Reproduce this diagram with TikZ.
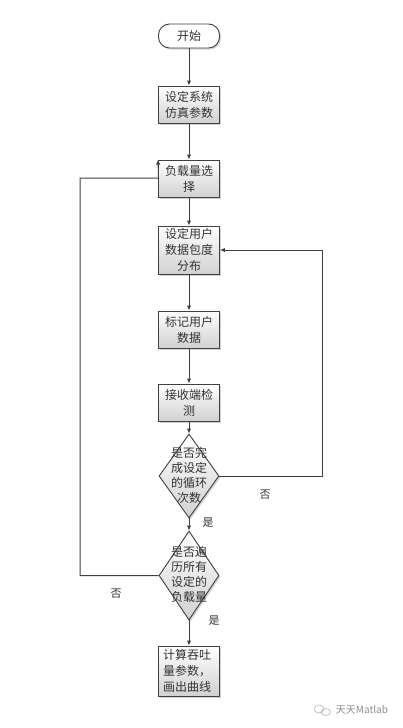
\documentclass[tikz,border=0pt]{standalone}
\usepackage{fontspec}
\setmainfont{Noto Sans CJK SC}
\usetikzlibrary{shapes.geometric,shadows,arrows.meta}
\definecolor{lc}{HTML}{404040}
\definecolor{tc}{HTML}{333333}
\tikzset{
  proc/.style={draw=lc, line width=0.9pt, top color=white, bottom color=black!18,
    drop shadow={shadow xshift=1.5pt, shadow yshift=-1.5pt, opacity=0.35},
    minimum width=61pt, inner sep=0pt, text width=56pt, align=center,
    font=\fontsize{12pt}{16pt}\selectfont, text=tc},
  term/.style={draw=lc, line width=0.9pt, fill=white, rounded corners=11pt,
    drop shadow={shadow xshift=1.5pt, shadow yshift=-1.5pt, opacity=0.35},
    minimum width=61pt, minimum height=24pt, inner sep=0pt,
    font=\fontsize{12pt}{16pt}\selectfont, text=tc},
  dec/.style={diamond, draw=lc, line width=0.9pt, top color=white, bottom color=black!18,
    drop shadow={shadow xshift=1.5pt, shadow yshift=-1.5pt, opacity=0.35},
    minimum width=60pt, inner sep=0pt},
  dtext/.style={align=center, inner sep=0pt, font=\fontsize{12pt}{15pt}\selectfont, text=tc},
  arr/.style={draw=lc, line width=1pt, -{Latex[length=5pt,width=4.5pt]}},
  lab/.style={font=\fontsize{11pt}{13pt}\selectfont, text=tc, inner sep=0pt},
}
\begin{document}
\begin{tikzpicture}[x=1pt,y=-1pt]
\useasboundingbox (0,0) rectangle (402,728);
\node[term] (start) at (189,36) {开始};
\node[proc, minimum height=37pt] (b1) at (189,104.5) {设定系统\\仿真参数};
\node[proc, minimum height=37pt] (b2) at (189,178.5) {负载量选\\择};
\node[proc, minimum height=48pt] (b3) at (189,250) {设定用户\\数据包度\\分布};
\node[proc, minimum height=37pt] (b4) at (189,329.5) {标记用户\\数据};
\node[proc, minimum height=37pt] (b5) at (189,402.5) {接收端检\\测};
\node[dec, minimum height=84pt] (d1) at (189,476) {};
\node[dtext] (d1t) at (189,475) {是否完\\成设定\\的循环\\次数};
\node[dec, minimum height=89pt] (d2) at (189,575.5) {};
\node[dtext] (d2t) at (189,574) {是否遍\\历所有\\设定的\\负载量};
\node[proc, minimum height=50pt, align=left, text width=52pt] (b6) at (189,671) {计算吞吐\\量参数，\\画出曲线};

\draw[arr] (start) -- (b1);
\draw[arr] (b1) -- (b2);
\draw[arr] (b2) -- (b3);
\draw[arr] (b3) -- (b4);
\draw[arr] (b4) -- (b5);
\draw[arr] (b5) -- (d1);
\draw[arr] (d1) -- (d2);
\draw[arr] (d2) -- (b6);

\coordinate (rc) at (322,476);
\draw[arr] (d1.east) -- (rc) |- (b3.east);
\coordinate (lt) at (80,178);
\coordinate (ln) at (158.5,178);
\draw[arr] (d2.west) -| (lt) -- (ln) -- (b2.north west);

\node[lab] (l1) at (265,495) {否};
\node[lab] (l2) at (208,523) {是};
\node[lab] (l3) at (116,594) {否};
\node[lab] (l4) at (214,621) {是};

\draw[black!30, line width=0.6pt] (319,709) ellipse (5pt and 4pt);
\draw[black!30, line width=0.6pt] (326,712) ellipse (4.5pt and 3.5pt);
\node[font=\fontsize{10pt}{12pt}\selectfont, text=black!45, inner sep=0pt] (wm) at (362,710) {天天Matlab};
\end{tikzpicture}
\end{document}
